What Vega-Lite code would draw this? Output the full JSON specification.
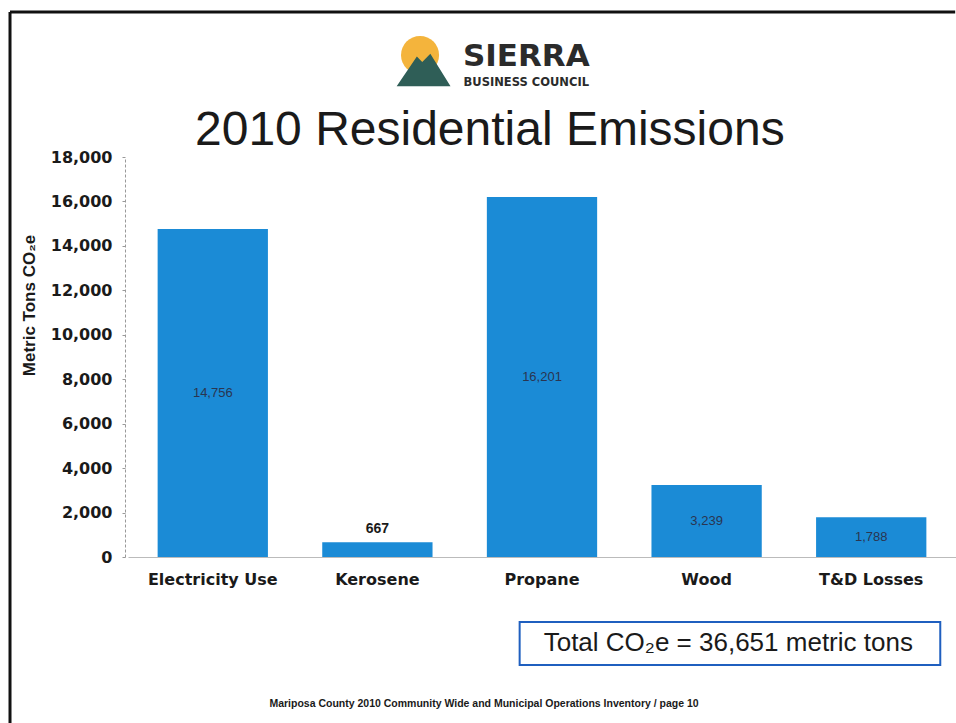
{
  "$schema": "https://vega.github.io/schema/vega-lite/v6.json",
  "width": 828,
  "height": 400,
  "autosize": "none",
  "padding": {"left": 128, "top": 157, "right": 0, "bottom": 166},
  "background": "white",
  "config": {"view": {"stroke": null}, "font": "Liberation Sans"},
  "layer": [
    {
      "data": {"values": [
        {"Category": "Electricity Use", "Emissions": 14756},
        {"Category": "Kerosene", "Emissions": 667},
        {"Category": "Propane", "Emissions": 16201},
        {"Category": "Wood", "Emissions": 3239},
        {"Category": "T&D Losses", "Emissions": 1788}
      ]},
      "encoding": {
        "x": {"field": "Category", "type": "nominal", "sort": null,
          "scale": {"paddingInner": 0.33, "paddingOuter": 0.18},
          "axis": {"title": null, "labelAngle": 0, "labelFont": "DejaVu Sans", "labelFontWeight": "bold", "labelFontSize": 16, "labelColor": "#1a1a1a", "labelPadding": 14, "ticks": false, "domainColor": "#bbbbbb", "domainWidth": 1}
        },
        "y": {"field": "Emissions", "type": "quantitative",
          "scale": {"domain": [0, 18000]},
          "axis": {"title": "Metric Tons CO₂e", "values": [0,2000,4000,6000,8000,10000,12000,14000,16000,18000], "format": ",.0f", "grid": false, "labelFont": "DejaVu Sans", "labelFontWeight": "bold", "labelFontSize": 16, "labelColor": "#1a1a1a", "labelPadding": 10, "tickSize": 3, "tickColor": "#999999", "domainColor": "#999999", "domainDash": [3, 2], "domainWidth": 1, "offset": 3, "titleFont": "Liberation Sans", "titleFontWeight": "bold", "titleFontSize": 17, "titleColor": "#1a1a1a", "titlePadding": 12, "titleY": 148, "titleAlign": "center"}
        }
      },
      "layer": [
        {"mark": {"type": "bar", "color": "#1b8bd6"}},
        {
          "transform": [{"filter": "datum.Category !== 'Kerosene'"}, {"calculate": "datum.Emissions / 2", "as": "mid"}],
          "mark": {"type": "text", "fontSize": 13, "color": "#2a3550", "baseline": "middle"},
          "encoding": {
            "y": {"field": "mid", "type": "quantitative"},
            "text": {"field": "Emissions", "type": "quantitative", "format": ",.0f"}
          }
        },
        {
          "transform": [{"filter": "datum.Category === 'Kerosene'"}],
          "mark": {"type": "text", "fontSize": 14, "fontWeight": "bold", "color": "#1a1a1a", "baseline": "bottom", "dy": -6},
          "encoding": {
            "text": {"field": "Emissions", "type": "quantitative", "format": ",.0f"}
          }
        }
      ]
    },
    {
      "data": {"values": [{}]},
      "layer": [
        {
          "mark": {"type": "text", "text": "2010 Residential Emissions", "fontSize": 48, "color": "#1a1a1a", "baseline": "middle", "align": "center"},
          "encoding": {
            "x": {"datum": 0.437, "type": "quantitative", "scale": {"domain": [0, 1]}, "axis": null},
            "y": {"datum": 1.065, "type": "quantitative", "scale": {"domain": [0, 1]}, "axis": null}
          }
        },
        {
          "mark": {"type": "point", "shape": "circle", "filled": true, "size": 1450, "color": "#f4b43c", "opacity": 1},
          "encoding": {
            "x": {"datum": 0.3527, "type": "quantitative"},
            "y": {"datum": 1.255, "type": "quantitative"}
          }
        },
        {
          "mark": {"type": "point", "shape": "M-1,0.6L-0.25,-0.5L-0.05,-0.3L0.25,-0.6L1,0.6Z", "filled": true, "size": 2900, "color": "#2f5e57", "opacity": 1},
          "encoding": {
            "x": {"datum": 0.357, "type": "quantitative"},
            "y": {"datum": 1.2175, "type": "quantitative"}
          }
        },
        {
          "mark": {"type": "text", "text": "SIERRA", "fontSize": 31, "fontWeight": "bold", "font": "DejaVu Sans", "color": "#2b2b2b", "baseline": "middle", "align": "center"},
          "encoding": {
            "x": {"datum": 0.481, "type": "quantitative"},
            "y": {"datum": 1.25, "type": "quantitative"}
          }
        },
        {
          "mark": {"type": "text", "text": "BUSINESS COUNCIL", "fontSize": 11.5, "fontWeight": "bold", "font": "DejaVu Sans", "color": "#2b2b2b", "baseline": "middle", "align": "center"},
          "encoding": {
            "x": {"datum": 0.481, "type": "quantitative"},
            "y": {"datum": 1.185, "type": "quantitative"}
          }
        },
        {
          "mark": {"type": "rect", "fill": "white", "stroke": "#1f5fbf", "strokeWidth": 2},
          "encoding": {
            "x": {"datum": 0.473, "type": "quantitative"},
            "x2": {"datum": 0.981},
            "y": {"datum": -0.1625, "type": "quantitative"},
            "y2": {"datum": -0.27}
          }
        },
        {
          "mark": {"type": "text", "text": "Total CO₂e = 36,651 metric tons", "fontSize": 26, "color": "#1a1a1a", "baseline": "middle", "align": "center"},
          "encoding": {
            "x": {"datum": 0.725, "type": "quantitative"},
            "y": {"datum": -0.216, "type": "quantitative"}
          }
        },
        {
          "mark": {"type": "text", "text": "Mariposa County 2010 Community Wide and Municipal Operations Inventory / page 10", "fontSize": 10.5, "fontWeight": "bold", "color": "#1a1a1a", "baseline": "middle", "align": "center"},
          "encoding": {
            "x": {"datum": 0.43, "type": "quantitative"},
            "y": {"datum": -0.3675, "type": "quantitative"}
          }
        },
        {
          "mark": {"type": "rule", "color": "#111111", "strokeWidth": 3},
          "encoding": {
            "x": {"datum": -0.1425, "type": "quantitative"},
            "x2": {"datum": 0.999},
            "y": {"datum": 1.3625, "type": "quantitative"}
          }
        },
        {
          "mark": {"type": "rule", "color": "#111111", "strokeWidth": 3},
          "encoding": {
            "x": {"datum": -0.1425, "type": "quantitative"},
            "y": {"datum": 1.3625, "type": "quantitative"},
            "y2": {"datum": -0.42}
          }
        }
      ]
    }
  ],
  "resolve": {"scale": {"x": "independent", "y": "independent"}}
}
